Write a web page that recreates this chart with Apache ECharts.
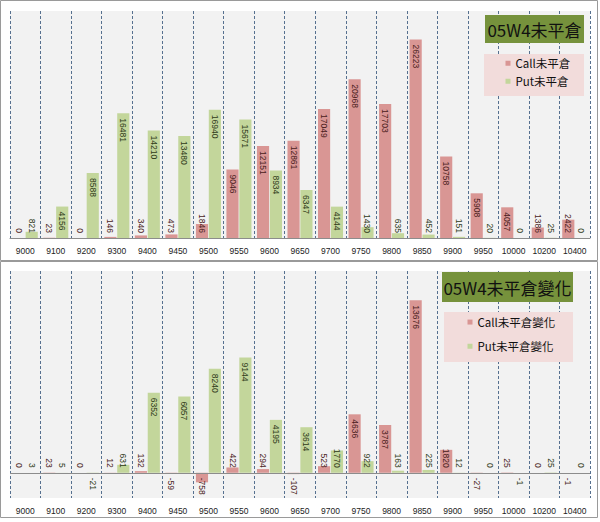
<!DOCTYPE html>
<html><head><meta charset="utf-8">
<script src="https://cdn.jsdelivr.net/npm/echarts@6.0.0/dist/echarts.min.js"></script>
<style>html,body{margin:0;padding:0;background:#fff}#c{width:600px;height:522px}</style>
</head><body><div id="c"></div>
<script>
// ---- data ----
const strikes = ['9000','9100','9200','9300','9400','9450','9500','9550','9600','9650','9700','9750','9800','9850','9900','9950','10000','10200','10400'];
const callOI  = [0,23,0,146,340,473,1846,9046,12151,12861,17049,20968,17703,26223,10758,5908,4057,1386,2422];
const putOI   = [821,4156,8588,16481,14210,13480,16940,15671,8934,6347,4144,1430,635,452,151,20,0,25,0];
const callChg = [0,23,0,12,132,-59,-758,422,294,-107,523,4636,3787,13676,1820,-27,25,0,-1];
const putChg  = [3,5,-21,631,6352,6057,8240,9144,4195,3614,1770,922,163,225,12,0,-1,25,0];
const namesOI  = ['Call未平倉','Put未平倉'];
const namesChg = ['Call未平倉變化','Put未平倉變化'];
const titleOI  = '05W4未平倉';
const titleChg = '05W4未平倉變化';

// ---- style ----
const CALL = '#d99694', PUT = '#c3d69b';
const CALL_TXT = '#4a1c1c', PUT_TXT = '#2f3a18';
const NUMFONT = 'Liberation Sans', CJK = '"Noto Sans CJK TC","Noto Sans CJK SC",sans-serif';
const LFS = 8.5, DIST = 5;

const chart = echarts.init(document.getElementById('c'), null, {renderer: 'svg'});

function xAxisCfg(gi, showLine) {
  return {
    type: 'category', gridIndex: gi, data: strikes,
    axisLine: {show: showLine, onZero: false, lineStyle: {color: '#8c8c8c', width: 1}},
    axisTick: {show: false},
    axisLabel: {interval: 0, fontSize: LFS, color: '#222', margin: 8, fontFamily: NUMFONT},
    splitLine: {show: true, interval: 0, lineStyle: {color: '#56708f', type: [3, 2], width: 1}}
  };
}
function barSeries(name, data, color, gi) {
  return {
    type: 'bar', name, data, xAxisIndex: gi, yAxisIndex: gi,
    itemStyle: {color}, barCategoryGap: '18%', barGap: '6%'
  };
}

const option = {
  animation: false,
  backgroundColor: '#fff',
  grid: [
    {left: 10, right: 10, top: 11, height: 227, show: true, backgroundColor: '#f2f2f2', borderWidth: 0},
    {left: 10, right: 10, top: 271, height: 227, show: true, backgroundColor: '#f2f2f2', borderWidth: 0}
  ],
  xAxis: [xAxisCfg(0, true), xAxisCfg(1, false)],
  yAxis: [
    {type: 'value', gridIndex: 0, min: 0, max: 30000, show: false, splitLine: {show: false}},
    {type: 'value', gridIndex: 1, min: -2000, max: 16000, show: false, splitLine: {show: false}}
  ],
  legend: [
    {data: namesOI, orient: 'vertical', left: 505.5, top: 57.5, padding: 0, itemGap: 6.5,
     itemWidth: 5, itemHeight: 5, icon: 'rect', z: 20,
     textStyle: {fontSize: 11.5, color: '#111', fontFamily: CJK}},
    {data: namesChg, orient: 'vertical', left: 467.5, top: 316.3, padding: 0, itemGap: 12.7,
     itemWidth: 5, itemHeight: 5, icon: 'rect', z: 20,
     textStyle: {fontSize: 11.5, color: '#111', fontFamily: CJK}}
  ],
  graphic: [
    {type: 'rect', z: 1, silent: true, shape: {x: 0.5, y: 0.5, width: 597, height: 260}, style: {fill: 'none', stroke: '#9a9a9a', lineWidth: 1}},
    {type: 'rect', z: 1, silent: true, shape: {x: 0.5, y: 261.5, width: 597, height: 256}, style: {fill: 'none', stroke: '#9a9a9a', lineWidth: 1}},
    {type: 'rect', z: 10, silent: true, shape: {x: 485, y: 15, width: 99, height: 28}, style: {fill: '#76923c'}},
    {type: 'text', z: 11, silent: true, x: 534.5, y: 29.5, style: {text: titleOI, fill: '#111', font: '17px ' + CJK, textAlign: 'center', textVerticalAlign: 'middle'}},
    {type: 'rect', z: 10, silent: true, shape: {x: 484, y: 54, width: 100, height: 42}, style: {fill: '#f2dcdb'}},
    {type: 'rect', z: 10, silent: true, shape: {x: 442, y: 272, width: 131, height: 30}, style: {fill: '#76923c'}},
    {type: 'text', z: 11, silent: true, x: 507.5, y: 287.5, style: {text: titleChg, fill: '#111', font: '17px ' + CJK, textAlign: 'center', textVerticalAlign: 'middle'}},
    {type: 'rect', z: 10, silent: true, shape: {x: 444, y: 312, width: 129, height: 50}, style: {fill: '#f2dcdb'}}
  ],
  series: [
    barSeries(namesOI[0], callOI, CALL, 0),
    barSeries(namesOI[1], putOI, PUT, 0),
    Object.assign(barSeries(namesChg[0], callChg, CALL, 1), {
      markLine: {silent: true, symbol: ['none', 'none'], label: {show: false},
                 lineStyle: {color: '#8c8c8c', type: 'solid', width: 1}, data: [{yAxis: 0}]}
    }),
    barSeries(namesChg[1], putChg, PUT, 1)
  ]
};
chart.setOption(option);

// label placement like Excel "inside end", kept inside the plot for short bars
function items(values, gi, txtColor) {
  const zero = chart.convertToPixel({yAxisIndex: gi}, 0);
  return values.map(v => {
    const h = Math.abs(chart.convertToPixel({yAxisIndex: gi}, v) - zero);
    const len = String(v).length * 4.8;
    let position, align;
    if (v < 0) { position = 'insideTop'; align = 'left'; }
    else if (h >= len + 2 * DIST) { position = 'insideTop'; align = 'left'; }
    else { position = 'insideBottom'; align = 'right'; }
    return {value: v, label: {show: true, position, align, verticalAlign: 'middle', rotate: -90,
      distance: DIST, color: txtColor, fontSize: LFS, fontFamily: NUMFONT}};
  });
}
chart.setOption({series: [
  {data: items(callOI, 0, CALL_TXT)},
  {data: items(putOI, 0, PUT_TXT)},
  {data: items(callChg, 1, CALL_TXT)},
  {data: items(putChg, 1, PUT_TXT)}
]});
</script></body></html>
